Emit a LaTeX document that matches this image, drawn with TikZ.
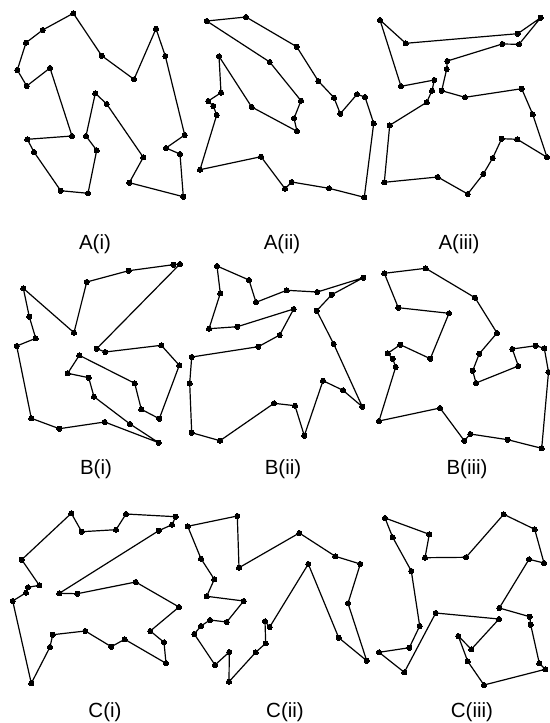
\documentclass[tikz,border=0pt]{standalone}
\usepackage{fontspec}
\setmainfont{Liberation Sans}
\begin{document}
\begin{tikzpicture}[x=1pt,y=-1pt,
  tour/.style={line width=1.2pt, line join=round, black},
  dotmark/.style={mark=*, mark size=2.6pt, mark options={fill=black, line width=0pt}},
  lbl/.style={anchor=base, inner sep=0pt, font=\fontsize{20.5}{24}\selectfont}]
\useasboundingbox[fill=white] (0,0) rectangle (549,723);
% A(i)
\draw[tour] plot[dotmark] coordinates {(73.3,13.3) (42.7,30) (26,42.7) (17.3,70) (26.7,86) (50,68) (72,136) (27.3,139.3) (34,152) (60.7,190.7) (88,193.3) (96.7,150.3) (86,136) (95.3,93.3) (106.7,104) (143.3,157.3) (129.3,182.7) (183.3,196.7) (180,154) (166,148) (184.7,135) (165.3,56) (156,28.7) (134,79.3) (101.7,55.7)} -- cycle;
% A(ii)
\draw[tour] plot[dotmark] coordinates {(206.7,21) (246,17) (296.7,46.7) (318.3,81) (334,97.7) (340.3,113.7) (357,94.3) (365,97) (373.7,123.3) (364.3,197.3) (329,188.3) (291.7,182) (285,188.7) (261,156.7) (200,169.7) (216.7,115) (213.3,106) (208.3,101) (221,92.7) (219,56.3) (251.7,107) (297,131.3) (294,118.3) (301,100.7) (269.7,62)} -- cycle;
% A(iii)
\draw[tour] plot[dotmark] coordinates {(380,20) (405.7,43.3) (517.7,33.7) (540.7,17.7) (519,44.3) (502.3,44) (447.3,61) (446.7,69) (441.7,90.7) (465,97.3) (521.7,88.7) (532.7,114.3) (547,157.3) (517.3,139.3) (501.7,138.7) (492.7,158) (483.3,174) (467.7,194) (437.7,177) (384.3,182.3) (389.7,125.3) (426.7,102.3) (432,90.7) (434.3,80) (401,86.3)} -- cycle;
% B(i)
\draw[tour] plot[dotmark] coordinates {(23.3,288.3) (74,332.7) (86.7,282) (128.7,270.7) (173.3,264.7) (180,264) (96.7,348.7) (105.3,352) (161.3,345.3) (179.3,365.3) (159.3,418.7) (141.3,409.3) (134.7,383.3) (79.3,355.3) (67.7,373.3) (88.7,377.7) (94,396.7) (130,424) (158.7,442.7) (104.7,422) (59.3,428.7) (31.3,418.3) (16.7,346) (35.7,338.3) (29.3,316.7)} -- cycle;
% B(ii)
\draw[tour] plot[dotmark] coordinates {(217,266) (249,280) (256,302.3) (286.7,290.3) (317.3,292) (363.3,277.7) (331.7,294.7) (316.7,310.7) (333.7,344) (362.3,406.7) (343,390.3) (323,380.7) (304.3,435.7) (295,405.7) (274,403.3) (220,440.7) (191.7,432.7) (189.7,383.3) (191.7,357) (258.3,346.7) (279.7,335) (293.7,309) (237.3,326.7) (209,328.7) (220.3,293.3)} -- cycle;
% B(iii)
\draw[tour] plot[dotmark] coordinates {(384.3,273.3) (425.7,268.3) (475,297.7) (497,333) (479.3,353.7) (472.7,370.7) (476,383) (518.3,366) (512.3,349) (535.7,345.7) (544.3,348.3) (548.5,372) (541.7,448.3) (507.7,439.7) (470.3,434) (464.3,440.7) (440,408) (379,421) (395.7,367) (392.7,358.7) (387.7,353.3) (400.3,344.7) (430.3,358.7) (449,313.3) (398.3,307.7)} -- cycle;
% C(i)
\draw[tour] plot[dotmark] coordinates {(71.3,513.3) (81.7,531.7) (116,529.7) (126,514) (175.7,516.7) (172,524.7) (158.7,530.7) (59.3,593.3) (77.3,593.7) (135.7,582) (179,607) (150.3,631) (164,642.3) (166,663.3) (124.7,639.3) (111.3,646.7) (85.3,631) (52.7,634.7) (50,647) (31.3,683.3) (12.7,601) (26,592.7) (28,587.3) (39.3,585.3) (21.7,559.7)} -- cycle;
% C(ii)
\draw[tour] plot[dotmark] coordinates {(187.7,526.3) (237.3,516) (239,567.7) (299.3,533) (335.3,556.3) (360.3,564) (348,603.3) (366.7,660.7) (338.7,637.7) (308.3,564) (269.7,627) (265,621.3) (265.7,643.3) (255.7,652.3) (229,681.7) (229.3,652) (215,665) (194.3,634) (201,626) (210,620) (226.7,622) (243.7,601) (206.7,596.3) (214.3,579.3) (201,558.7)} -- cycle;
% C(iii)
\draw[tour] plot[dotmark] coordinates {(385,518) (429.3,534.3) (425,557.7) (466,557.3) (503.7,514.3) (534.7,529.3) (544,563) (529,559.3) (499.3,608) (529.7,616.7) (530.7,624.7) (539.3,663.3) (545.3,669.3) (484,685) (467.7,661.3) (458.3,636) (471.3,649.3) (499,619) (435.7,613) (404.3,672.3) (379,652.3) (409.3,647.7) (419.7,626) (411.3,571) (392.7,537.3)} -- cycle;
% labels
\node[lbl] (la1) at (95,249.5) {A(i)};
\node[lbl] (la2) at (282,249.5) {A(ii)};
\node[lbl] (la3) at (459,249.5) {A(iii)};
\node[lbl] (lb1) at (96,474.5) {B(i)};
\node[lbl] (lb2) at (283,474.5) {B(ii)};
\node[lbl] (lb3) at (467,474.5) {B(iii)};
\node[lbl] (lc1) at (105,717.3) {C(i)};
\node[lbl] (lc2) at (285,717.3) {C(ii)};
\node[lbl] (lc3) at (472,717.3) {C(iii)};
\end{tikzpicture}
\end{document}
